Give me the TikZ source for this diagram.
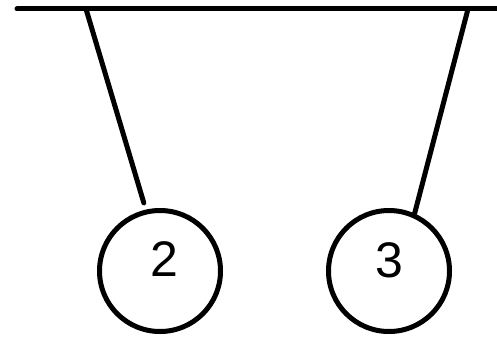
\documentclass[tikz,border=0pt]{standalone}
\usepackage{fontspec}
\setmainfont{Liberation Sans}
\begin{document}
\begin{tikzpicture}[x=1pt,y=-1pt,
  bar/.style={line width=5pt,line cap=round},
  rope/.style={line width=5pt,line cap=round},
  ball/.style={circle,draw,line width=5pt,minimum size=121pt,inner sep=0pt},
  num/.style={inner sep=0pt,font=\fontsize{50}{50}\selectfont}]
\useasboundingbox (0,0) rectangle (497,337);
\coordinate (barL) at (17,9);
\coordinate (barR) at (500,9);
\coordinate (t1) at (86,9);
\coordinate (t2) at (468,9);
\draw[bar] (barL) -- (barR);
\node[ball] (b2) at (160,271) {};
\node[ball] (b3) at (389,271) {};
\node[num] at (164,259) {2};
\node[num] at (389.5,260.5) {3};
\draw[rope,shorten >=7pt] (t1) -- (b2.103);
\draw[rope] (t2) -- (b3.66);
\end{tikzpicture}
\end{document}
